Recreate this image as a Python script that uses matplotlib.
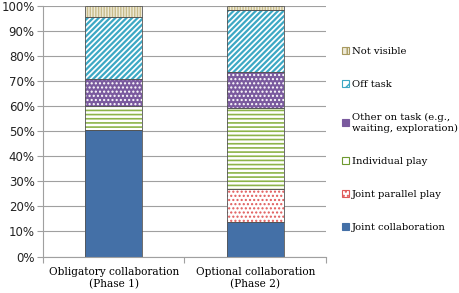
import numpy as np
import matplotlib.pyplot as plt
from matplotlib.patches import Patch

categories = ["Obligatory collaboration\n(Phase 1)", "Optional collaboration\n(Phase 2)"]
series = ["Joint collaboration", "Joint parallel play", "Individual play",
          "Other on task (e.g.,\nwaiting, exploration)", "Off task", "Not visible"]
joint_collab = [50.5, 13.7]
joint_parallel = [0.0, 13.2]
individual = [9.5, 32.2]
other_on_task = [11.0, 14.7]
off_task = [24.5, 24.8]
not_visible = [4.5, 1.4]
values = [joint_collab, joint_parallel, individual, other_on_task, off_task, not_visible]

# fill, hatch colour, hatch pattern, hatch linewidth
styles = [
    ("#4470A7", "#4470A7", None, 1.0),
    ("white", "#E05A5A", "....", 1.0),
    ("white", "#8DB44A", "----", 1.2),
    ("#7A5A9E", "white", "....", 1.0),
    ("white", "#3CA8C4", "//////", 1.6),
    ("#EEEAD8", "#C8BC8A", "||||||", 1.0),
]
legend_hatch = [None, "....", "", "..", "///", "|||"]
legend_edge = ["#4470A7", "#E05A5A", "#6E9A30", "#7A5A9E", "#3CA8C4", "#A89A60"]

fig = plt.figure(figsize=(4.6, 2.93), dpi=100)
ax = fig.add_axes([43 / 460, 1 - 256.5 / 293, 283 / 460, 250.5 / 293])

x = np.arange(len(categories))
bottom = np.zeros(len(categories))
handles = []
for i, (name, vals, (fc, hc, hatch, hlw)) in enumerate(zip(series, values, styles)):
    with plt.rc_context({"hatch.linewidth": hlw}):
        ax.bar(x, vals, 0.4, bottom=bottom, color=fc, edgecolor=hc, hatch=hatch,
               linewidth=0, zorder=2)
        ax.bar(x, vals, 0.4, bottom=bottom, fill=False, edgecolor="#555555",
               linewidth=0.6, zorder=3)
    with plt.rc_context({"hatch.linewidth": 0.8}):
        handles.append(Patch(facecolor=fc, edgecolor=legend_edge[i], linewidth=0.8,
                             hatch=legend_hatch[i], label=name))
    bottom += np.array(vals)

ax.set_xlim(-0.5, 1.5)
ax.set_ylim(0, 100)
ax.set_yticks(np.arange(0, 101, 10))
ax.set_yticklabels([f"{v}%" for v in range(0, 101, 10)], fontsize=8.5, color="#222222")
ax.yaxis.grid(True, color="#A0A0A0", linewidth=0.8, zorder=0)
ax.set_axisbelow(True)
for s in ["top", "right"]:
    ax.spines[s].set_visible(False)
ax.spines["left"].set_color("#A0A0A0")
ax.spines["bottom"].set_color("#A0A0A0")
ax.tick_params(axis="y", length=4, color="#A0A0A0", pad=2)

ax.set_xticks([-0.5, 0.5, 1.5])
ax.set_xticklabels([])
ax.tick_params(axis="x", length=4, color="#A0A0A0")
for xi, lab in zip(x, categories):
    ax.text(xi, -4, lab, ha="center", va="top", fontsize=7.6, family="DejaVu Serif",
            linespacing=1.25, transform=ax.transData)

leg = fig.legend(handles=handles[::-1], labels=series[::-1], loc="upper left",
                 bbox_to_anchor=(337 / 460, 1 - 42 / 293), frameon=False,
                 prop={"family": "DejaVu Serif", "size": 7.2},
                 handlelength=0.7, handleheight=0.7, handletextpad=0.3,
                 labelspacing=2.4, borderpad=0)

fig.savefig("out.png", dpi=100)
